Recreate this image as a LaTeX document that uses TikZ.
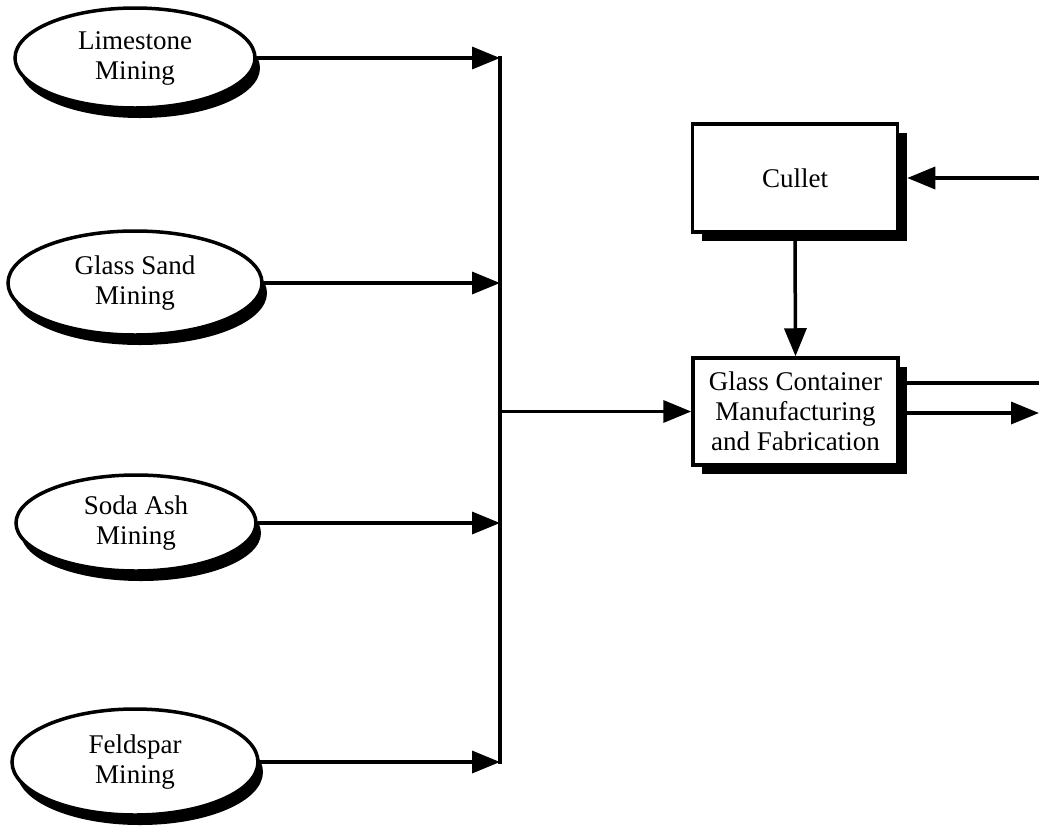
\documentclass[tikz,border=0pt]{standalone}
\usepackage{fontspec}
\setmainfont{Liberation Serif}
\usetikzlibrary{shapes.geometric,arrows.meta,shadows}
\begin{document}
\begin{tikzpicture}[x=1pt,y=-1pt,
  lbl/.style={font=\fontsize{27}{30}\selectfont, align=center},
  oval/.style={ellipse, draw, line width=3.5pt, fill=white, inner sep=0pt, lbl,
    general shadow={shadow xshift=5pt, shadow yshift=-10pt, fill=black}},
  boxn/.style={rectangle, draw, line width=3.5pt, fill=white, inner sep=0pt, lbl,
    minimum width=205pt, minimum height=107pt,
    general shadow={shadow xshift=9pt, shadow yshift=-9pt, fill=black}},
  conn/.style={line width=3.5pt},
  arr/.style={conn, -{Triangle[length=28pt,width=22pt]}}]
\useasboundingbox (0,0) rectangle (1039,828);
\node[oval, minimum width=240pt, minimum height=100pt] (lime) at (135,58) {Limestone\\Mining};
\node[oval, minimum width=254pt, minimum height=104pt] (sand) at (135,283) {Glass Sand\\Mining};
\node[oval, minimum width=240pt, minimum height=96pt] (soda) at (136,523) {Soda Ash\\Mining};
\node[oval, minimum width=246pt, minimum height=106pt] (feld) at (135,762) {Feldspar\\Mining};
\coordinate (bus) at (500,0);
\node[boxn, minimum height=108pt] (cullet) at (795,178) {Cullet};
\node[boxn] (gc) at (795.5,411.5) {Glass Container\\Manufacturing\\and Fabrication};
\coordinate (r1) at (1039,178);
\coordinate (o1) at (1039,383);
\coordinate (o2) at (1039,413);
\draw[arr] (lime.east) -- (lime.east -| bus);
\draw[arr] (sand.east) -- (sand.east -| bus);
\draw[arr] (soda.east) -- (soda.east -| bus);
\draw[arr] (feld.east) -- (feld.east -| bus);
\draw[conn, line cap=rect] (lime.east -| bus) -- (feld.east -| bus);
\draw[arr] (gc.west -| bus) -- (gc.west);
\draw[arr] (cullet.south) -- (gc.north);
\draw[arr, shorten >=8pt] (r1) -- (cullet.east);
\draw[conn] (o1 -| gc.east) -- (o1);
\draw[arr] (o2 -| gc.east) -- (o2);
\end{tikzpicture}
\end{document}
